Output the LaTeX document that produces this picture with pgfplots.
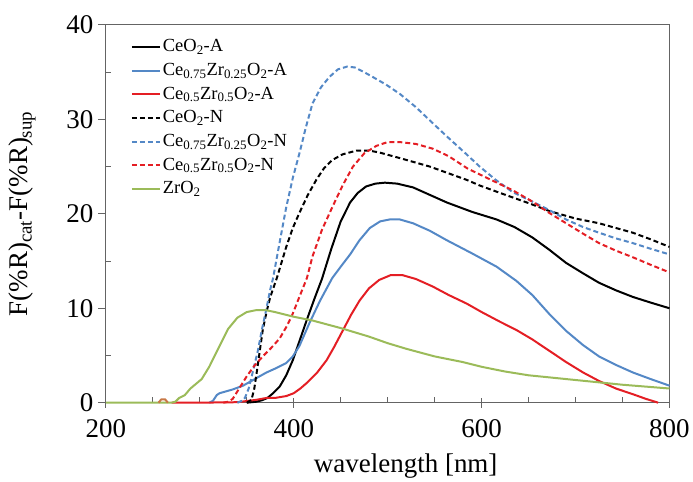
\documentclass[border=0pt]{standalone}
\usepackage{fontspec}
\setmainfont{Liberation Serif}
\usepackage{pgfplots}
\pgfplotsset{compat=1.18}
\definecolor{cblue}{RGB}{84,136,198}
\definecolor{cred}{RGB}{228,30,36}
\definecolor{cgreen}{RGB}{155,187,89}
\definecolor{cbrown}{RGB}{200,120,70}
\definecolor{axgray}{RGB}{100,100,100}
\begin{document}
\begin{tikzpicture}
\path (-106pt,-78pt) rectangle (587pt,403pt);
\begin{axis}[
  at={(0,0)}, anchor=south west,
  scale only axis, width=564pt, height=378pt,
  xmin=200, xmax=800, ymin=0, ymax=40,
  clip=false,
  axis line style={draw=axgray, line width=1pt},
  xtick={200,400,600,800}, ytick={0,10,20,30,40},
  xtick pos=bottom, ytick pos=left,
  major tick length=0pt,
  /pgf/number format/assume math mode=true,
  tick label style={font=\fontsize{27}{30}\selectfont},
  xticklabel style={anchor=center, yshift=-26pt},
  yticklabel style={anchor=east, xshift=-9pt},
  xlabel={wavelength [nm]},
  ylabel={F(\%R)\textsubscript{cat}-F(\%R)\textsubscript{sup}},
  label style={font=\fontsize{27}{30}\selectfont},
  xlabel style={at={(axis description cs:0.532,-0.1667)}, anchor=center},
  ylabel style={at={(axis description cs:-0.1480,0.5)}, anchor=center},
  legend cell align=left,
  legend image code/.code={\draw[#1, line width=2pt] (0pt,0pt) -- (28pt,0pt);},
  legend style={draw=none, fill=none, inner sep=0pt, at={(0.044,0.9735)}, anchor=north west,
    font=\fontsize{18.5}{22}\selectfont, row sep=0pt,
    nodes={inner sep=2pt, text height=14.7pt, text depth=5pt},
    every even column/.append style={xshift=3pt}},
]
% tick lines
\pgfplotsinvokeforeach{200,400,600,800}{\draw[axgray, line width=1pt] (axis cs:#1,0) ++(0pt,-5pt) -- ++(0pt,10pt);}
\pgfplotsinvokeforeach{250,300,350,450,500,550,650,700,750}{\draw[axgray, line width=1pt] (axis cs:#1,0) -- ++(0pt,6pt);}
\pgfplotsinvokeforeach{0,10,20,30,40}{\draw[axgray, line width=1pt] (axis cs:200,#1) -- ++(-8pt,0pt);}
\pgfplotsinvokeforeach{5,15,25,35}{\draw[axgray, line width=1pt] (axis cs:200,#1) -- ++(5pt,0pt);}
% CeO2-A
\addplot[black, line width=2pt] coordinates {(350,0)(360,0.1)(366,0.25)(372,0.5)(378,1.0)(385,1.7)(392,2.9)(399,4.5)(406,6.5)(414,8.8)(422,11.0)(430,13.1)(440,16.3)(450,19.2)(460,21.2)(468,22.2)(477,22.9)(487,23.2)(497,23.3)(510,23.2)(527,22.8)(545,22.0)(563,21.2)(590,20.2)(616,19.4)(635,18.6)(654,17.5)(672,16.2)(690,14.8)(708,13.7)(725,12.7)(743,11.9)(761,11.2)(780,10.6)(800,10.0)};
\addlegendentry{CeO\textsubscript{2}-A}
% Ce0.75Zr0.25O2-A
\addplot[cblue, line width=2pt] coordinates {(310,0)(314,0.2)(318,0.8)(321,1.0)(328,1.2)(335,1.4)(346,1.8)(355,2.3)(362,2.7)(371,3.2)(380,3.6)(392,4.2)(399,4.9)(406,6.0)(417,8.5)(428,10.8)(441,13.2)(450,14.4)(460,15.7)(470,17.2)(481,18.5)(492,19.2)(502,19.4)(513,19.4)(527,19.0)(545,18.2)(563,17.2)(590,15.8)(616,14.4)(637,12.9)(654,11.4)(672,9.4)(690,7.6)(708,6.1)(725,4.9)(743,4.0)(761,3.2)(780,2.5)(800,1.8)};
\addlegendentry{Ce\textsubscript{0.75}Zr\textsubscript{0.25}O\textsubscript{2}-A}
% Ce0.5Zr0.5O2-A
\addplot[cred, line width=2pt] coordinates {(270,0)(300,0)(340,0.05)(360,0.3)(371,0.5)(380,0.5)(392,0.7)(400,1.0)(407,1.5)(414,2.1)(425,3.2)(435,4.5)(443,5.9)(452,7.6)(461,9.3)(470,10.8)(480,12.1)(491,13.0)(503,13.5)(516,13.5)(530,13.1)(548,12.3)(565,11.4)(584,10.5)(600,9.6)(619,8.6)(637,7.7)(654,6.7)(672,5.5)(690,4.3)(708,3.2)(725,2.3)(743,1.5)(761,0.9)(775,0.4)(788,0)};
\addlegendentry{Ce\textsubscript{0.5}Zr\textsubscript{0.5}O\textsubscript{2}-A}
% CeO2-N
\addplot[black, line width=2pt, dash pattern=on 5pt off 3pt] coordinates {(350,0)(355,0.3)(358,1.5)(361,3.5)(364,5.6)(367,7.7)(371,9.6)(375,11.2)(382,13.2)(392,16.5)(399,18.5)(406,20.1)(415,22.0)(424,23.6)(432,24.8)(441,25.7)(452,26.3)(467,26.7)(480,26.7)(491,26.5)(513,25.9)(545,25.0)(584,23.6)(598,23.0)(620,22.2)(651,21.1)(672,20.3)(700,19.5)(725,19.0)(761,18.0)(780,17.3)(800,16.5)};
\addlegendentry{CeO\textsubscript{2}-N}
% Ce0.75Zr0.25O2-N
\addplot[cblue, line width=2pt, dash pattern=on 5pt off 3pt] coordinates {(340,0)(345,0.2)(348,0.5)(352,1.5)(357,3.5)(362,5.6)(366,7.7)(371,10)(375,12)(378,13.2)(385,17)(392,20.7)(399,23.8)(406,26.4)(413,29.2)(420,31.7)(429,33.4)(438,34.5)(447,35.3)(457,35.6)(465,35.5)(475,35.0)(484,34.5)(498,33.7)(513,32.7)(530,31.3)(548,29.6)(563,28.2)(584,26.3)(598,25.0)(615,23.6)(633,22.3)(654,21.3)(672,20.4)(690,19.4)(708,18.6)(725,18.0)(743,17.4)(761,16.9)(780,16.3)(800,15.7)};
\addlegendentry{Ce\textsubscript{0.75}Zr\textsubscript{0.25}O\textsubscript{2}-N}
% Ce0.5Zr0.5O2-N
\addplot[cred, line width=2pt, dash pattern=on 5pt off 3pt] coordinates {(325,0)(330,0.1)(335,0.4)(340,1.2)(345,2.0)(350,2.8)(358,3.9)(367,4.9)(376,5.8)(385,6.8)(392,8.0)(398,9.2)(406,11.2)(414,13.2)(420,15.5)(430,18.3)(441,20.7)(452,23.0)(463,25.0)(475,26.4)(488,27.2)(500,27.6)(513,27.6)(530,27.4)(548,26.9)(565,26.1)(585,24.8)(610,23.6)(633,22.5)(654,21.3)(672,20.1)(690,19.0)(708,17.9)(725,16.9)(743,16.1)(761,15.4)(780,14.6)(800,13.8)};
\addlegendentry{Ce\textsubscript{0.5}Zr\textsubscript{0.5}O\textsubscript{2}-N}
% ZrO2
\addplot[cgreen, line width=2pt] coordinates {(200,0)(270,0)(274,0.1)(278,0.5)(284,0.8)(290,1.5)(296,2.0)(302,2.5)(310,3.8)(320,5.8)(330,7.8)(340,9.0)(350,9.6)(360,9.8)(370,9.8)(380,9.6)(400,9.1)(420,8.7)(450,7.9)(480,7.0)(500,6.3)(520,5.7)(550,4.9)(580,4.3)(600,3.8)(625,3.3)(650,2.9)(700,2.4)(750,1.9)(800,1.5)};
\addlegendentry{ZrO\textsubscript{2}}
% small bump near 260 nm
\addplot[cbrown, line width=2pt, forget plot] coordinates {(256,0)(259,0.35)(263,0.35)(266,0)};
\end{axis}
\end{tikzpicture}
\end{document}
